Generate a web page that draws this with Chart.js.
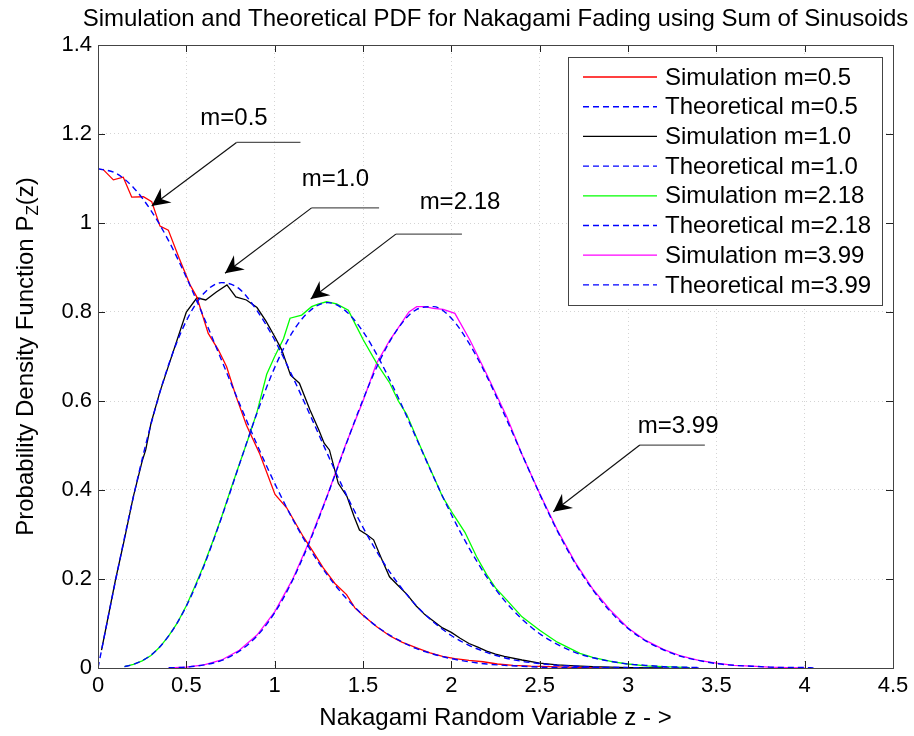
<!DOCTYPE html>
<html>
<head>
<meta charset="utf-8">
<script src="https://cdn.jsdelivr.net/npm/chart.js@4.4.0/dist/chart.umd.min.js"></script>
<style>
  html, body { margin: 0; padding: 0; background: #fff; }
  #wrap { width: 914px; height: 736px; }
</style>
</head>
<body>
<div id="wrap"><canvas id="chart"></canvas></div>
<script>
const FONT = '"Liberation Sans", Arial, Helvetica, sans-serif';

// theoretical curves (0.1 steps)
const thX05 = [0,0.1,0.2,0.3,0.4,0.5,0.6,0.7,0.8,0.9,1.0,1.1,1.2,1.3,1.4,1.5,1.6,1.7,1.8,1.9,2.0,2.1,2.2,2.3,2.4,2.5,2.6,2.7,2.8,2.9];
const thY05 = [1.122,1.112,1.080,1.028,0.960,0.878,0.787,0.691,0.595,0.502,0.415,0.336,0.267,0.208,0.159,0.119,0.087,0.063,0.044,0.031,0.021,0.014,0.009,0.006,0.004,0.002,0.001,0.001,0,0];

const thX10 = [0,0.1,0.2,0.3,0.4,0.5,0.6,0.7,0.8,0.9,1.0,1.1,1.2,1.3,1.4,1.5,1.6,1.7,1.8,1.9,2.0,2.1,2.2,2.3,2.4,2.5,2.6,2.7,2.8,2.9,3.0,3.1,3.2,3.3,3.4];
const thY10 = [0,0.198,0.384,0.548,0.682,0.780,0.842,0.866,0.852,0.803,0.737,0.656,0.569,0.480,0.394,0.316,0.247,0.189,0.141,0.103,0.073,0.051,0.035,0.023,0.015,0.010,0.006,0.004,0.002,0.001,0.001,0,0,0,0];

const thX218 = [0.15,0.2,0.3,0.4,0.5,0.6,0.7,0.8,0.9,1.0,1.1,1.2,1.3,1.4,1.5,1.6,1.7,1.8,1.9,2.0,2.1,2.2,2.3,2.4,2.5,2.6,2.7,2.8,2.9,3.0,3.1,3.2,3.3,3.4];
const thY218 = [0.003,0.008,0.029,0.072,0.139,0.230,0.339,0.457,0.573,0.675,0.754,0.803,0.821,0.803,0.756,0.688,0.607,0.518,0.429,0.345,0.270,0.205,0.152,0.110,0.077,0.053,0.035,0.023,0.015,0.009,0.006,0.003,0.002,0.001];

const thX399 = [0.4,0.5,0.6,0.7,0.8,0.9,1.0,1.1,1.2,1.3,1.4,1.5,1.6,1.7,1.8,1.9,2.0,2.1,2.2,2.3,2.4,2.5,2.6,2.7,2.8,2.9,3.0,3.1,3.2,3.3,3.4,3.5,3.6,3.7,3.8,3.9,4.0,4.05];
const thY399 = [0.0005,0.002,0.007,0.017,0.038,0.072,0.124,0.196,0.286,0.389,0.498,0.603,0.695,0.764,0.805,0.812,0.786,0.730,0.656,0.570,0.480,0.391,0.308,0.236,0.176,0.127,0.089,0.061,0.041,0.026,0.017,0.010,0.006,0.004,0.002,0.001,0.001,0];

// simulated curves
const simX05 = [0.027,0.087,0.143,0.191,0.257,0.304,0.351,0.398,0.46,0.521,0.559,0.624,0.681,0.728,0.78,0.841,0.917,1.002,1.068,1.162,1.22,1.275,1.341,1.407,1.454,1.501,1.58,1.653,1.72,1.8,1.88,1.95,2.02,2.1,2.18,2.26,2.35,2.45,2.55,2.65,2.75,2.85];
const simY05 = [1.121,1.097,1.103,1.058,1.059,1.048,0.993,0.984,0.920,0.861,0.834,0.752,0.715,0.677,0.612,0.545,0.480,0.390,0.360,0.295,0.260,0.225,0.190,0.165,0.135,0.118,0.092,0.072,0.058,0.046,0.034,0.026,0.021,0.017,0.014,0.009,0.006,0.004,0.003,0.002,0.001,0];

const simX10 = [0.02,0.05,0.1,0.15,0.2,0.25,0.27,0.3,0.35,0.4,0.45,0.5,0.56,0.61,0.67,0.73,0.78,0.84,0.9,0.95,1.0,1.04,1.09,1.14,1.2,1.25,1.28,1.31,1.36,1.41,1.45,1.48,1.52,1.56,1.6,1.65,1.7,1.75,1.8,1.85,1.9,1.95,2.0,2.05,2.1,2.15,2.2,2.25,2.3,2.4,2.5,2.6,2.7,2.8,3.0,3.2];
const simY10 = [0.04,0.10,0.20,0.29,0.385,0.465,0.49,0.55,0.62,0.68,0.74,0.80,0.832,0.827,0.845,0.861,0.834,0.827,0.81,0.78,0.745,0.715,0.658,0.64,0.58,0.535,0.505,0.49,0.415,0.385,0.34,0.31,0.30,0.288,0.25,0.205,0.185,0.165,0.14,0.12,0.105,0.09,0.08,0.067,0.055,0.047,0.038,0.031,0.026,0.018,0.011,0.007,0.005,0.003,0.001,0];

const simX218 = [0.15,0.2,0.25,0.3,0.35,0.4,0.45,0.5,0.55,0.6,0.65,0.7,0.75,0.8,0.85,0.9,0.955,1.0,1.05,1.087,1.153,1.209,1.25,1.294,1.35,1.417,1.46,1.502,1.577,1.652,1.7,1.747,1.822,1.9,1.95,2.011,2.077,2.143,2.2,2.25,2.313,2.4,2.5,2.6,2.728,2.8,2.916,3.0,3.1,3.2,3.35];
const simY218 = [0.003,0.008,0.016,0.028,0.047,0.072,0.102,0.14,0.185,0.232,0.285,0.34,0.40,0.458,0.515,0.575,0.66,0.70,0.74,0.786,0.793,0.812,0.818,0.823,0.818,0.804,0.77,0.737,0.685,0.64,0.60,0.57,0.50,0.43,0.385,0.345,0.305,0.25,0.21,0.18,0.153,0.115,0.085,0.058,0.033,0.024,0.014,0.009,0.005,0.003,0.001];

const simX399 = [0.4,0.5,0.6,0.7,0.8,0.9,1.0,1.1,1.2,1.3,1.4,1.5,1.577,1.652,1.709,1.76,1.804,1.85,1.898,1.954,2.02,2.105,2.2,2.313,2.4,2.5,2.6,2.7,2.8,2.9,3.0,3.1,3.2,3.3,3.4,3.5,3.6,3.7,3.8,3.9,4.0];
const simY399 = [0.0005,0.002,0.007,0.018,0.04,0.074,0.126,0.198,0.288,0.39,0.50,0.60,0.685,0.737,0.77,0.80,0.812,0.812,0.808,0.806,0.797,0.737,0.66,0.565,0.48,0.392,0.31,0.238,0.178,0.13,0.09,0.062,0.042,0.027,0.017,0.011,0.006,0.004,0.002,0.001,0.0005];

const seriesNames = ['Simulation m=0.5','Theoretical m=0.5','Simulation m=1.0','Theoretical m=1.0',
                     'Simulation m=2.18','Theoretical m=2.18','Simulation m=3.99','Theoretical m=3.99'];
const simColors = ['#ff0000','#000000','#00ff00','#ff00ff'];

const xTicks = [0,0.5,1,1.5,2,2.5,3,3.5,4,4.5];
const yTicks = [0,0.2,0.4,0.6,0.8,1,1.2,1.4];

// annotation arrows: label, label pos, shelf line, arrow tip (data coords)
const notes = [
  { text: 'm=0.5',  tx: 0.77,  ty: 1.236, x1: 0.784, x2: 1.146, ly: 1.181, px: 0.304, py: 1.038 },
  { text: 'm=1.0',  tx: 1.344, ty: 1.098, x1: 1.209, x2: 1.591, ly: 1.034, px: 0.719, py: 0.887 },
  { text: 'm=2.18', tx: 2.049, ty: 1.046, x1: 1.686, x2: 2.06,  ly: 0.975, px: 1.204, py: 0.829 },
  { text: 'm=3.99', tx: 3.284, ty: 0.542, x1: 3.067, x2: 3.435, ly: 0.501, px: 2.577, py: 0.351 }
];

function pts(xs, ys) { return xs.map((x, i) => ({ x: x, y: ys[i] })); }

function simSet(name, xs, ys, color) {
  return { label: name, data: pts(xs, ys), borderColor: color, borderWidth: 1.3,
           pointRadius: 0, tension: 0, fill: false, order: 1 };
}
function thSet(name, xs, ys) {
  return { label: name, data: pts(xs, ys), borderColor: '#0000ff', borderWidth: 1.4,
           borderDash: [6, 4], pointRadius: 0, cubicInterpolationMode: 'monotone', fill: false, order: 0 };
}

const datasets = [
  simSet(seriesNames[0], simX05, simY05, simColors[0]),
  thSet(seriesNames[1], thX05, thY05),
  simSet(seriesNames[2], simX10, simY10, simColors[1]),
  thSet(seriesNames[3], thX10, thY10),
  simSet(seriesNames[4], simX218, simY218, simColors[2]),
  thSet(seriesNames[5], thX218, thY218),
  simSet(seriesNames[6], simX399, simY399, simColors[3]),
  thSet(seriesNames[7], thX399, thY399)
];

const fmt = v => String(Number(v.toFixed(1)));

// box + inward tick marks, like a matlab axes
const framePlugin = {
  id: 'frame',
  afterDatasetsDraw(chart) {
    const { ctx, chartArea: a, scales } = chart;
    ctx.save();
    ctx.strokeStyle = '#222';
    ctx.lineWidth = 1;
    ctx.beginPath();
    const tl = 7;
    xTicks.forEach(v => {
      const x = Math.round(scales.x.getPixelForValue(v)) + 0.5;
      ctx.moveTo(x, a.bottom); ctx.lineTo(x, a.bottom - tl);
      ctx.moveTo(x, a.top); ctx.lineTo(x, a.top + tl);
    });
    yTicks.forEach(v => {
      const y = Math.round(scales.y.getPixelForValue(v)) + 0.5;
      ctx.moveTo(a.left, y); ctx.lineTo(a.left + tl, y);
      ctx.moveTo(a.right, y); ctx.lineTo(a.right - tl, y);
    });
    ctx.stroke();
    ctx.strokeStyle = '#444';
    ctx.strokeRect(Math.round(a.left) + 0.5, Math.round(a.top) + 0.5,
                   Math.round(a.right - a.left), Math.round(a.bottom - a.top));
    ctx.restore();
  }
};

// arrows with labels
const notesPlugin = {
  id: 'notes',
  afterDatasetsDraw(chart) {
    const { ctx, scales } = chart;
    const X = v => scales.x.getPixelForValue(v), Y = v => scales.y.getPixelForValue(v);
    ctx.save();
    notes.forEach(n => {
      const sx = X(n.x1), sy = Y(n.ly), ex = X(n.px), ey = Y(n.py);
      ctx.strokeStyle = '#555';
      ctx.lineWidth = 1.2;
      ctx.beginPath(); ctx.moveTo(sx, sy); ctx.lineTo(X(n.x2), sy); ctx.stroke();
      ctx.strokeStyle = '#111';
      ctx.beginPath(); ctx.moveTo(sx, sy); ctx.lineTo(ex, ey); ctx.stroke();
      // arrow head
      const ang = Math.atan2(ey - sy, ex - sx);
      const L = 18, W = 9, notch = 12;
      const bx = ex - L * Math.cos(ang), by = ey - L * Math.sin(ang);
      const nx = ex - notch * Math.cos(ang), ny = ey - notch * Math.sin(ang);
      const px = -Math.sin(ang), py = Math.cos(ang);
      ctx.fillStyle = '#000';
      ctx.beginPath();
      ctx.moveTo(ex, ey);
      ctx.lineTo(bx + W * px, by + W * py);
      ctx.lineTo(nx, ny);
      ctx.lineTo(bx - W * px, by - W * py);
      ctx.closePath(); ctx.fill();
      ctx.fillStyle = '#000';
      ctx.font = '24px ' + FONT;
      ctx.textAlign = 'center'; ctx.textBaseline = 'middle';
      ctx.fillText(n.text, X(n.tx), Y(n.ty));
    });
    ctx.restore();
  }
};

// legend box in the upper right, title, y label with subscript
const decorPlugin = {
  id: 'decor',
  afterDraw(chart) {
    const { ctx, chartArea: a } = chart;
    ctx.save();
    // legend
    const lw = 314, lh = 248;
    const lx = a.right - 11 - lw, ly = a.top + 12;
    ctx.fillStyle = '#fff';
    ctx.fillRect(lx, ly, lw, lh);
    ctx.strokeStyle = '#444'; ctx.lineWidth = 1;
    ctx.strokeRect(Math.round(lx) + 0.5, Math.round(ly) + 0.5, lw, lh);
    ctx.font = '24px ' + FONT;
    ctx.textBaseline = 'middle'; ctx.textAlign = 'left';
    chart.data.datasets.forEach((d, i) => {
      const y = ly + 20 + i * 29.7;
      ctx.strokeStyle = d.borderColor;
      ctx.lineWidth = d.borderWidth;
      ctx.setLineDash(d.borderDash || []);
      ctx.beginPath(); ctx.moveTo(lx + 15, y); ctx.lineTo(lx + 89, y); ctx.stroke();
      ctx.setLineDash([]);
      ctx.fillStyle = '#000';
      ctx.fillText(d.label, lx + 97, y + 1);
    });
    // title
    ctx.font = '24px ' + FONT;
    ctx.textAlign = 'center'; ctx.textBaseline = 'middle';
    ctx.fillText('Simulation and Theoretical PDF for Nakagami Fading using Sum of Sinusoids', (a.left + a.right) / 2, 19);
    // y axis title with subscript Z
    const main = 'Probability Density Function P', sub = 'Z', tail = '(z)';
    ctx.font = '24px ' + FONT;
    const w1 = ctx.measureText(main).width, w3 = ctx.measureText(tail).width;
    ctx.font = '17px ' + FONT;
    const w2 = ctx.measureText(sub).width;
    const total = w1 + w2 + w3;
    ctx.translate(25, (a.top + a.bottom) / 2);
    ctx.rotate(-Math.PI / 2);
    ctx.textAlign = 'left'; ctx.textBaseline = 'alphabetic';
    let x0 = -total / 2;
    ctx.font = '24px ' + FONT;
    ctx.fillText(main, x0, 8);
    ctx.font = '17px ' + FONT;
    ctx.fillText(sub, x0 + w1, 13);
    ctx.font = '24px ' + FONT;
    ctx.fillText(tail, x0 + w1 + w2, 8);
    ctx.restore();
  }
};

new Chart(document.getElementById('chart').getContext('2d'), {
  type: 'line',
  data: { datasets: datasets },
  options: {
    responsive: true,
    maintainAspectRatio: false,
    animation: false,
    devicePixelRatio: 1,
    layout: { padding: { top: 45, right: 21, left: 0, bottom: 0 } },
    plugins: { legend: { display: false }, tooltip: { enabled: false }, title: { display: false } },
    scales: {
      x: {
        type: 'linear', min: 0, max: 4.5,
        afterFit: s => { s.height = 68; },
        afterBuildTicks: s => { s.ticks = xTicks.map(v => ({ value: v })); },
        ticks: { font: { size: 22, family: FONT }, color: '#000', padding: 5, maxRotation: 0, autoSkip: false, callback: fmt },
        grid: { color: '#d4d4d4', drawTicks: false, lineWidth: 1 },
        border: { display: false, dash: [1, 3] },
        title: { display: true, text: 'Nakagami Random Variable z - >', color: '#000',
                 font: { size: 24, family: FONT }, padding: { top: 0, bottom: 3 } }
      },
      y: {
        type: 'linear', min: 0, max: 1.4,
        afterFit: s => { s.width = 98; },
        afterBuildTicks: s => { s.ticks = yTicks.map(v => ({ value: v })); },
        ticks: { font: { size: 22, family: FONT }, color: '#000', padding: 6, callback: fmt },
        grid: { color: '#d4d4d4', drawTicks: false, lineWidth: 1 },
        border: { display: false, dash: [1, 3] }
      }
    }
  },
  plugins: [framePlugin, notesPlugin, decorPlugin]
});
</script>
</body>
</html>
